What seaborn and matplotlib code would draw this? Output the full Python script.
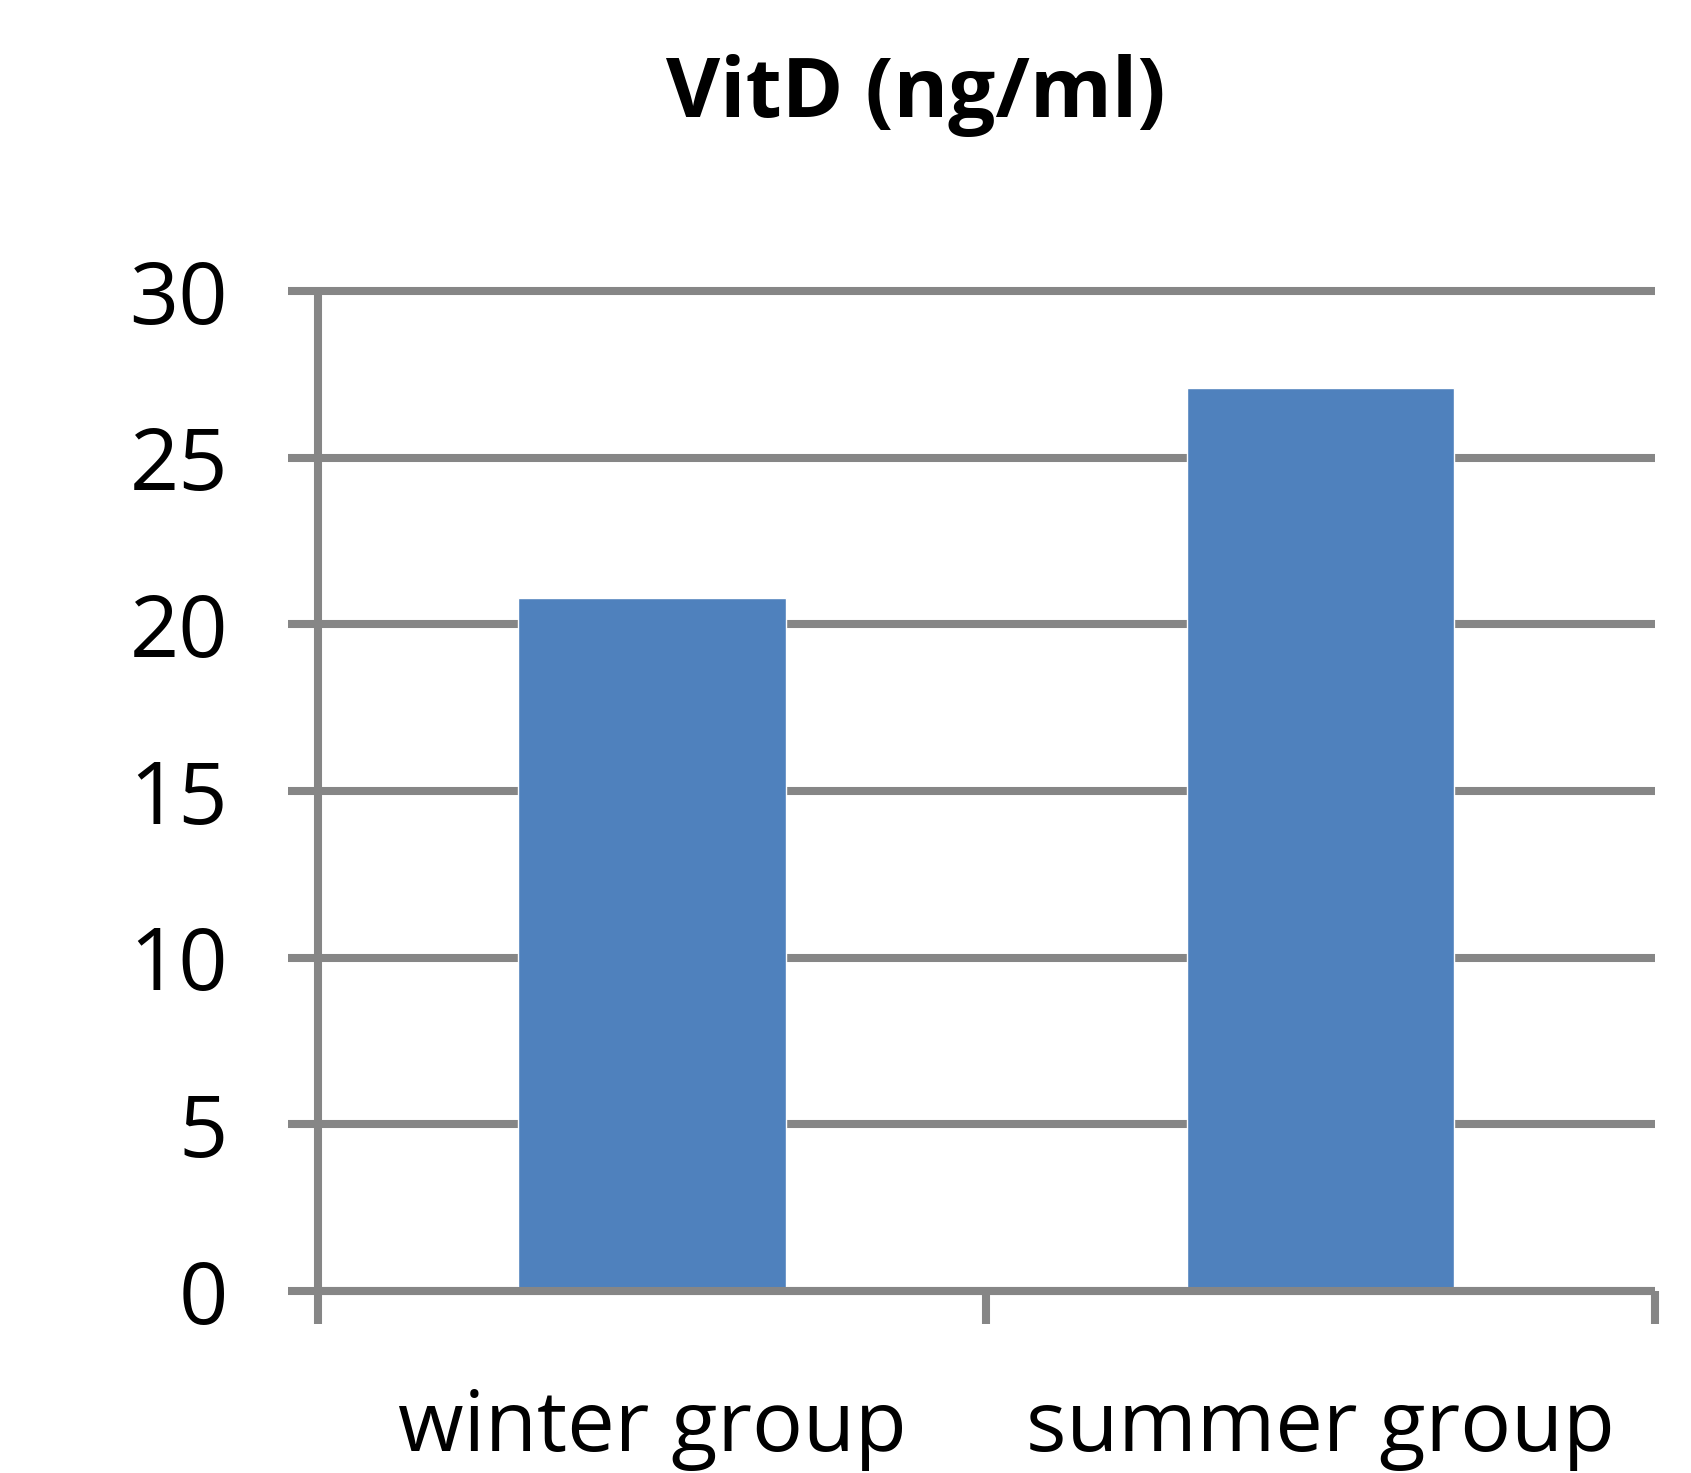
import matplotlib
matplotlib.use("Agg")
import matplotlib.pyplot as plt
import seaborn as sns
import pandas as pd

# Mean serum vitamin D by sampling season
groups = ["winter group", "summer group"]
vitd_ng_ml = [20.8, 27.1]
y_ticks = [0, 5, 10, 15, 20, 25, 30]

df = pd.DataFrame({"group": groups, "vitd": vitd_ng_ml})

sns.set_theme(style="white")
plt.rcParams["font.family"] = ["Open Sans", "DejaVu Sans"]

GRAY = "#868686"
BLUE = "#4F81BD"
LW = 5.8

fig = plt.figure(figsize=(16.91, 14.73), dpi=100)
ax = fig.add_axes([0.188, 0.1236, 0.7907, 0.6788])

sns.barplot(data=df, x="group", y="vitd", color=BLUE, saturation=1,
            width=0.4, ax=ax, zorder=1)

ax.set_xlim(-0.5, 1.5)
ax.set_ylim(0, 30)
ax.set_yticks(y_ticks)
ax.set_xlabel("")
ax.set_ylabel("")

# horizontal gridlines, drawn behind the bars
ax.set_axisbelow(True)
ax.yaxis.grid(True, color=GRAY, linewidth=LW)
for gl in ax.get_ygridlines():
    gl.set_clip_on(False)
    gl.set_solid_capstyle("butt")

for side in ["top", "right"]:
    ax.spines[side].set_visible(False)
for side in ["left", "bottom"]:
    ax.spines[side].set_color(GRAY)
    ax.spines[side].set_linewidth(LW)
    ax.spines[side].set_capstyle("butt")

ax.tick_params(axis="y", direction="out", length=21.6, width=LW, color=GRAY,
               pad=43, labelsize=62, labelcolor="black", left=True)

# category boundary ticks on the x axis, labels centred between them
ax.set_xticks([-0.5, 0.5, 1.5], minor=True)
ax.tick_params(axis="x", which="minor", direction="out", length=23.8,
               width=LW, color=GRAY, bottom=True)
ax.tick_params(axis="x", which="major", length=0, pad=69, labelsize=61,
               labelcolor="black")

fig.text(916 / 1691, 1 - 117 / 1473, "VitD (ng/ml)", ha="center",
         va="baseline", fontsize=60, fontweight="bold", color="black")

fig.savefig("out.png", dpi=100, facecolor="white")
